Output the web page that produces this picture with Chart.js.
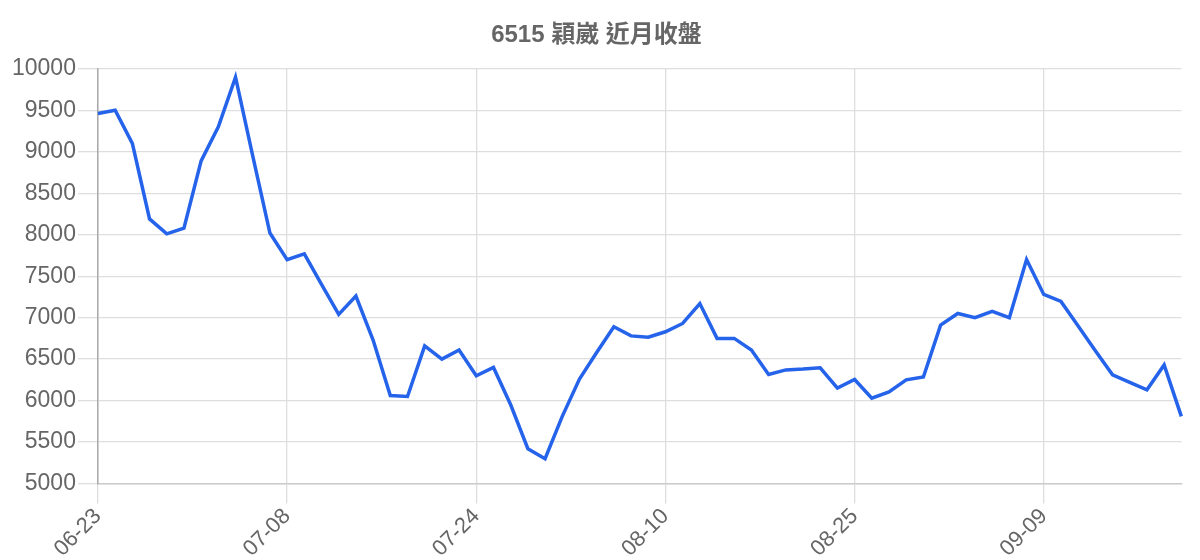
<!DOCTYPE html>
<html>
<head>
<meta charset="utf-8">
<script src="https://cdn.jsdelivr.net/npm/chart.js@4/dist/chart.umd.min.js"></script>
<style>
  html, body { margin: 0; padding: 0; background: #fff; }
  #wrap { width: 1200px; height: 560px; }
</style>
</head>
<body>
<div id="wrap"><canvas id="priceChart"></canvas></div>
<script>
const chartTitle = "6515 穎崴 近月收盤";

const dates = [
    "06-23", "06-24", "06-25", "06-26", "06-27", "06-30", "07-01", "07-02", "07-03", "07-04", "07-07",
    "07-08", "07-09", "07-10", "07-11", "07-14", "07-15", "07-16", "07-17", "07-21", "07-22", "07-23",
    "07-24", "07-25", "07-28", "07-29", "07-30", "07-31", "08-01", "08-04", "08-05", "08-06", "08-07",
    "08-10", "08-11", "08-12", "08-13", "08-14", "08-15", "08-18", "08-19", "08-20", "08-21", "08-22",
    "08-25", "08-26", "08-27", "08-28", "08-29", "09-01", "09-02", "09-03", "09-04", "09-05", "09-08",
    "09-09", "09-10", "09-11", "09-12", "09-15", "09-16", "09-17", "09-18", "09-19"
];

const closes = [
    9460, 9500, 9100, 8190, 8010, 8080, 8890, 9300, 9900, 8950, 8020,
    7700, 7770, 7400, 7040, 7260, 6730, 6060, 6050, 6660, 6500, 6610,
    6300, 6400, 5950, 5420, 5300, 5810, 6260, 6580, 6890, 6780, 6765,
    6830, 6930, 7170, 6750, 6750, 6610, 6315, 6370, 6380, 6395, 6150,
    6255, 6030, 6105, 6250, 6285, 6910, 7050, 7000, 7075, 7000, 7700,
    7280, 7195, 6900, 6600, 6310, 6220, 6130, 6430, 5810
];

const yMin = 5000;
const yMax = 10000;
const yStep = 500;
const labelEvery = 11;

const gridColor = "#dedede";
const textColor = "#666";

new Chart(document.getElementById("priceChart"), {
    type: "line",
    data: {
        labels: dates,
        datasets: [{
            label: chartTitle,
            data: closes,
            borderColor: "#2563eb",
            borderWidth: 3.5,
            pointRadius: 0,
            tension: 0,
            fill: false
        }]
    },
    options: {
        responsive: true,
        maintainAspectRatio: false,
        animation: false,
        layout: {
            padding: { left: 10, right: 17, top: 10, bottom: -2 }
        },
        plugins: {
            legend: { display: false },
            tooltip: { enabled: false },
            title: {
                display: true,
                text: chartTitle,
                color: textColor,
                font: { family: "'Liberation Sans', 'Noto Sans CJK TC', sans-serif", size: 24, weight: "bold" },
                padding: { top: 11, bottom: 19 }
            }
        },
        scales: {
            x: {
                offset: false,
                grid: {
                    // vertical lines only where a date label is shown
                    color: (ctx) => (ctx.index % labelEvery === 0 ? gridColor : "rgba(0,0,0,0)"),
                    tickLength: 20,
                    lineWidth: 1.3
                },
                border: { color: "#cccccc", width: 1.4 },
                ticks: {
                    autoSkip: false,
                    minRotation: 45,
                    maxRotation: 45,
                    padding: 0,
                    color: textColor,
                    font: { family: "'Liberation Sans', sans-serif", size: 22 },
                    callback: function (value, index) {
                        return index % labelEvery === 0 ? this.getLabelForValue(value) : "";
                    }
                }
            },
            y: {
                min: yMin,
                max: yMax,
                grid: { color: gridColor, tickLength: 20, lineWidth: 1.3 },
                border: { color: "#aaa", width: 1.5 },
                ticks: {
                    stepSize: yStep,
                    padding: 2,
                    color: textColor,
                    font: { family: "'Liberation Sans', sans-serif", size: 23 },
                    callback: (value) => String(value)
                }
            }
        }
    }
});
</script>
</body>
</html>
